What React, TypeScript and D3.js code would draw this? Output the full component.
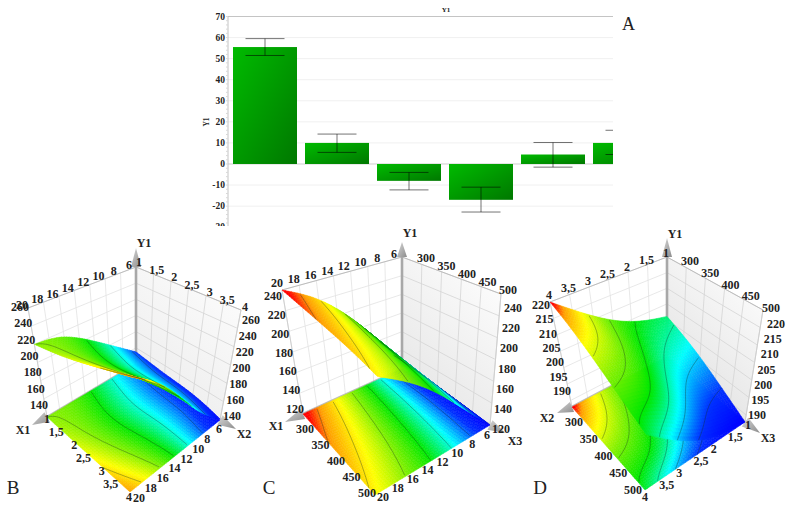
import React, { useEffect, useRef } from 'react';
import * as d3 from 'd3';

// bar chart (A)
const barValues = [55.5, 10, -8, -17, 4.5, 10];
const barLow = [51.5, 5.5, -12.3, -22.8, -1.5, 4.5];
const barHigh = [59.5, 14.2, -4, -11, 10.2, 16];
const barTicks = [-30, -20, -10, 0, 10, 20, 30, 40, 50, 60, 70];

// surface tables: rows run along s (lower left edge), columns along t (lower right edge)
const surfaceB = [
  [155, 178, 200, 218, 220],
  [150, 170, 190, 212, 228],
  [149, 172, 196, 219, 240],
  [141, 165, 200, 232, 250],
];
const surfaceC = [
  [125, 165, 200, 226, 240],
  [125, 160, 192, 218, 232],
  [123, 155, 186, 210, 226],
  [120, 150, 180, 202, 218],
];
const surfaceD = [
  [201, 203, 207, 213, 220],
  [198, 200, 205, 211, 215],
  [194.5, 196, 202, 208, 210],
  [191, 192, 198, 205, 206],
  [188, 189, 192, 197, 203],
];

const ticksX1 = [1, 1.5, 2, 2.5, 3, 3.5, 4];
const ticksX2 = [6, 8, 10, 12, 14, 16, 18, 20];
const ticksX3 = [300, 350, 400, 450, 500];
const zTicksB = [140, 160, 180, 200, 220, 240, 260];
const zTicksC = [120, 140, 160, 180, 200, 220, 240];
const zTicksD = [190, 195, 200, 205, 210, 215, 220];
const contoursB = [160, 180, 200, 220, 240];
const contoursC = [140, 160, 180, 200, 220, 232];
const contoursD = [192, 196, 200, 204, 208, 212];

type P = number[];

const panels = [
  {
    id: 'b', surface: surfaceB, sTicks: ticksX1, tTicks: ticksX2, zTicks: zTicksB, levels: contoursB,
    sDomain: [1, 4], tDomain: [6, 20], zDomain: [140, 260],
    floor: { back: [136, 364], right: [220, 420], left: [47, 417], front: [130, 492] },
    top: { back: [136, 267], right: [241, 310], left: [28, 308], front: [133, 367] },
    tips: { left: [32, 425], right: [236, 429], up: [136, 248] },
    rows: {
      sLow: { from: [50, 423], to: [132, 501], anchor: 'end' },
      tLow: { from: [216, 433], to: [133, 502], anchor: 'start' },
      sTop: { from: [139, 266], to: [245, 311], anchor: 'middle' },
      tTop: { from: [129, 269], to: [22, 309], anchor: 'middle' },
      zLeft: { from: [39, 409], to: [20, 311], anchor: 'middle' },
      zRight: { from: [232, 420], to: [251, 324], anchor: 'middle' },
    },
    titles: [['X1', 23, 434], ['X2', 244, 438], ['Y1', 144, 247]],
    letter: ['B', 13, 494],
    wallGrey: '#eaeaea',
  },
  {
    id: 'c', surface: surfaceC, sTicks: ticksX3, tTicks: ticksX2, zTicks: zTicksC, levels: contoursC,
    sDomain: [250, 500], tDomain: [6, 20], zDomain: [120, 240],
    floor: { back: [402, 369], right: [490, 425], left: [303, 414], front: [375, 495] },
    top: { back: [402, 257], right: [501, 294], left: [282, 290], front: [378, 350] },
    tips: { left: [285, 422], right: [505, 433], up: [402, 242] },
    rows: {
      sLow: { from: [305, 433], to: [367, 497], anchor: 'middle' },
      tLow: { from: [487, 439], to: [383, 501], anchor: 'middle' },
      sTop: { from: [426, 262], to: [508, 294], anchor: 'middle' },
      tTop: { from: [394, 258], to: [277, 287], anchor: 'middle' },
      zLeft: { from: [295, 413], to: [273, 300], anchor: 'middle' },
      zRight: { from: [501, 433], to: [513, 312], anchor: 'middle' },
    },
    titles: [['X1', 276, 430], ['X3', 515, 445], ['Y1', 410, 237]],
    letter: ['C', 269, 494],
    wallGrey: '#e2e2e2',
  },
  {
    id: 'd', surface: surfaceD, sTicks: ticksX3, tTicks: ticksX1, zTicks: zTicksD, levels: contoursD,
    sDomain: [250, 500], tDomain: [1, 4], zDomain: [188, 220],
    floor: { back: [667, 357], right: [745, 422], left: [572, 407], front: [645, 490] },
    top: { back: [667, 257], right: [763, 310], left: [550, 302], front: [648, 372] },
    tips: { left: [557, 413], right: [760, 433], up: [667, 238] },
    rows: {
      sLow: { from: [574, 426], to: [633, 494], anchor: 'middle' },
      tLow: { from: [745, 429], to: [642, 501], anchor: 'start' },
      sTop: { from: [690, 265], to: [771, 312], anchor: 'middle' },
      tTop: { from: [666, 257], to: [549, 299], anchor: 'middle' },
      zLeft: { from: [562, 395], to: [541, 309], anchor: 'middle' },
      zRight: { from: [757, 419], to: [776, 328], anchor: 'middle' },
    },
    titles: [['X2', 547, 422], ['X3', 768, 442], ['Y1', 675, 238]],
    letter: ['D', 540, 494],
    wallGrey: '#dcdcdc',
  },
];

const jet = d3
  .scaleLinear<string>()
  .domain([0, 0.12, 0.3, 0.5, 0.66, 0.8, 0.92, 0.98])
  .range(['#0000ff', '#0030ff', '#00ffff', '#00e800', '#80f000', '#ffff00', '#ff9f00', '#ff0000'])
  .clamp(true);

const serif = '"Liberation Serif", serif';
const comma = (v: number) => String(v).replace('.', ',');
const lerp = (a: P, b: P, k: number) => [a[0] + (b[0] - a[0]) * k, a[1] + (b[1] - a[1]) * k];

function drawBars(svg: any) {
  const x = d3.scaleBand<number>().domain(d3.range(barValues.length)).range([229, 661]).paddingInner(1 / 9).paddingOuter(1 / 18);
  const y = d3.scaleLinear().domain([-30, 70]).range([227.2, 16.5]);

  const grad = svg.append('defs').append('linearGradient').attr('id', 'barFill').attr('x1', 0).attr('y1', 0).attr('x2', 1).attr('y2', 1);
  grad.append('stop').attr('offset', '0%').attr('stop-color', '#00bb00');
  grad.append('stop').attr('offset', '100%').attr('stop-color', '#007800');
  svg.select('defs').append('clipPath').attr('id', 'barClip').append('rect').attr('x', 200).attr('y', 0).attr('width', 413).attr('height', 226);

  const g = svg.append('g').attr('clip-path', 'url(#barClip)');
  g.append('g')
    .selectAll('line')
    .data(barTicks)
    .join('line')
    .attr('x1', 228)
    .attr('x2', 613)
    .attr('y1', (d: number) => y(d))
    .attr('y2', (d: number) => y(d))
    .attr('stroke', (d: number) => (d === 70 ? '#c4c4c4' : d === 0 ? '#cfcfcf' : '#f0f0f0'));
  g.append('g')
    .selectAll('rect')
    .data(barValues)
    .join('rect')
    .attr('x', (_: number, i: number) => x(i))
    .attr('y', (d: number) => y(Math.max(d, 0)))
    .attr('width', x.bandwidth())
    .attr('height', (d: number) => Math.abs(y(d) - y(0)))
    .attr('fill', 'url(#barFill)');
  const err = g.append('g').attr('stroke', '#000').attr('stroke-opacity', 0.55);
  barValues.forEach((_, i) => {
    const cx = x(i)! + x.bandwidth() / 2;
    err.append('line').attr('x1', cx).attr('x2', cx).attr('y1', y(barLow[i])).attr('y2', y(barHigh[i]));
    [barLow[i], barHigh[i]].forEach((v) => {
      err.append('line').attr('x1', cx - 19.5).attr('x2', cx + 19.5).attr('y1', y(v)).attr('y2', y(v));
    });
  });
  g.append('line').attr('x1', 228).attr('x2', 228).attr('y1', 16).attr('y2', 226).attr('stroke', '#c4c4c4');
  g.append('g')
    .selectAll('line')
    .data(d3.range(-30, 71, 2))
    .join('line')
    .attr('x1', 226)
    .attr('x2', 228)
    .attr('y1', (d: number) => y(d))
    .attr('y2', (d: number) => y(d))
    .attr('stroke', '#d8d8d8');
  g.append('g')
    .selectAll('text')
    .data(barTicks)
    .join('text')
    .attr('x', 225)
    .attr('y', (d: number) => y(d) + 3)
    .attr('text-anchor', 'end')
    .attr('font-family', serif)
    .attr('font-weight', 'bold')
    .attr('font-size', 9.5)
    .attr('fill', '#222')
    .text((d: number) => d);
  svg.append('text').attr('x', 446).attr('y', 12).attr('text-anchor', 'middle').attr('font-family', serif).attr('font-weight', 'bold').attr('font-size', 7).attr('fill', '#222').text('Y1');
  svg.append('text').attr('transform', 'translate(209,122) rotate(-90)').attr('text-anchor', 'middle').attr('font-family', serif).attr('font-weight', 'bold').attr('font-size', 7.5).attr('fill', '#222').text('Y1');
  svg.append('text').attr('x', 622).attr('y', 30).attr('font-family', serif).attr('font-size', 18).attr('fill', '#222').text('A');
}

function drawPanel(svg: any, p: any) {
  const g = svg.append('g');
  const s01 = d3.scaleLinear().domain(p.sDomain).range([0, 1]);
  const t01 = d3.scaleLinear().domain(p.tDomain).range([0, 1]);
  const z01 = d3.scaleLinear().domain(p.zDomain).range([0, 1]);

  // cube corners blended, so the slanted perspective edges come out right
  const project = (s: number, t: number, w: number): P => {
    const corner = (c: any) => lerp(lerp(c.back, c.right, s), lerp(c.left, c.front, s), t);
    return lerp(corner(p.floor), corner(p.top), w);
  };
  const height = (s: number, t: number) => {
    const across = p.surface.map((row: number[]) => d3.interpolateBasis(row)(t));
    return d3.interpolateBasis(across)(s);
  };
  const poly = (pts: P[]) => 'M' + pts.map((q) => `${q[0].toFixed(2)},${q[1].toFixed(2)}`).join('L') + 'Z';

  const defs = svg.select('defs');
  const wall = defs.append('linearGradient').attr('id', `wall${p.id}`).attr('x1', 0).attr('y1', 1).attr('x2', 0.6).attr('y2', 0);
  wall.append('stop').attr('offset', '0%').attr('stop-color', p.wallGrey);
  wall.append('stop').attr('offset', '100%').attr('stop-color', '#fbfbfb');
  const cone = defs.append('linearGradient').attr('id', `cone${p.id}`).attr('x1', 0).attr('y1', 0).attr('x2', 1).attr('y2', 1);
  cone.append('stop').attr('offset', '0%').attr('stop-color', '#d8d8d8');
  cone.append('stop').attr('offset', '100%').attr('stop-color', '#8c8c8c');

  // walls
  g.append('path').attr('d', poly([project(0, 0, 0), project(1, 0, 0), project(1, 0, 1), project(0, 0, 1)])).attr('fill', `url(#wall${p.id})`);
  g.append('path').attr('d', poly([project(0, 1, 0), project(0, 0, 0), project(0, 0, 1), project(0, 1, 1)])).attr('fill', '#fff');
  const seg = (a: P, b: P, stroke: string, width = 0.8) =>
    g.append('line').attr('x1', a[0]).attr('y1', a[1]).attr('x2', b[0]).attr('y2', b[1]).attr('stroke', stroke).attr('stroke-width', width);
  p.zTicks.forEach((z: number) => {
    const w = z01(z);
    seg(project(0, 0, w), project(1, 0, w), '#d4d4d4');
    seg(project(0, 0, w), project(0, 1, w), '#e2e2e2');
  });
  p.sTicks.forEach((v: number) => seg(project(s01(v), 0, 0), project(s01(v), 0, 1), '#d4d4d4'));
  p.tTicks.forEach((v: number) => seg(project(0, t01(v), 0), project(0, t01(v), 1), '#e2e2e2'));
  seg(project(0, 1, 1), project(0, 0, 1), '#bdbdbd', 1);
  seg(project(0, 0, 1), project(1, 0, 1), '#bdbdbd', 1);
  seg(project(0, 1, 0), project(0, 1, 1), '#cfcfcf', 1);
  seg(project(1, 0, 0), project(1, 0, 1), '#cfcfcf', 1);
  seg(project(0, 0, 0), project(0, 0, 1), '#a8a8a8', 2.6);
  seg(project(0, 1, 0), project(0, 0, 0), '#bcbcbc', 2.6);
  seg(project(0, 0, 0), project(1, 0, 0), '#bcbcbc', 2.6);

  // arrow heads
  const arrow = (base: P, tip: P, half: number) => {
    const dx = tip[0] - base[0];
    const dy = tip[1] - base[1];
    const len = Math.hypot(dx, dy);
    const nx = (-dy / len) * half;
    const ny = (dx / len) * half;
    g.append('path').attr('d', poly([[base[0] + nx, base[1] + ny], tip, [base[0] - nx, base[1] - ny]])).attr('fill', `url(#cone${p.id})`);
  };
  arrow(project(0, 1, 0), p.tips.left, 5.5);
  arrow(project(1, 0, 0), p.tips.right, 5.5);
  arrow(project(0, 0, 1), p.tips.up, 5);

  // sheets are tessellated only to paint them, back corner first
  const N = 42;
  const colorOf = (v: number) => jet(z01(v));
  const sheet = (lift: boolean) => {
    const layer = g.append('g');
    for (let i = 0; i < N; i++) {
      for (let j = 0; j < N; j++) {
        const s0 = i / N;
        const s1 = (i + 1) / N;
        const t0 = j / N;
        const t1 = (j + 1) / N;
        const corners = [[s0, t0], [s1, t0], [s1, t1], [s0, t1]];
        const at = (c: number[]) => project(c[0], c[1], lift ? z01(height(c[0], c[1])) : 0);
        const q = corners.map(at);
        let fill = colorOf(height((s0 + s1) / 2, (t0 + t1) / 2));
        if (lift) {
          // grazing cells darken, but only on the back half of the sheet
          const flat = d3.polygonArea(corners.map((c) => project(c[0], c[1], 0)));
          const ratio = Math.abs(d3.polygonArea(q) / flat);
          const shade = Math.min(1, 0.62 + ratio * 1.4);
          const backness = Math.max(0, Math.min(1, 1.2 - s0 - t0));
          fill = d3.interpolateRgb('#000', fill)(1 - (1 - shade) * backness);
        }
        layer.append('path').attr('d', poly(q)).attr('fill', fill).attr('stroke', fill).attr('stroke-width', 0.5);
      }
    }
  };

  // contour lines, without the parts that run along the sheet's border
  const M = 70;
  const samples = new Array(M * M);
  for (let y = 0; y < M; y++) for (let x = 0; x < M; x++) samples[x + y * M] = height(x / (M - 1), y / (M - 1));
  const rings = d3.contours().size([M, M]).thresholds(p.levels)(samples);
  const onEdge = (c: P) => c[0] <= 0.5 || c[0] >= M - 0.5 || c[1] <= 0.5 || c[1] >= M - 0.5;
  const contourLines = (lift: boolean) => {
    const line = d3.line();
    rings.forEach((geo: any) => {
      const w = lift ? z01(geo.value) : 0;
      geo.coordinates.forEach((polygon: any) =>
        polygon.forEach((ring: P[]) => {
          let run: P[] = [];
          const flush = () => {
            if (run.length > 1) g.append('path').attr('d', line(run)).attr('fill', 'none').attr('stroke', '#143020').attr('stroke-opacity', 0.6).attr('stroke-width', 0.6);
            run = [];
          };
          ring.forEach((c) => {
            if (onEdge(c)) flush();
            else run.push(project((c[0] - 0.5) / (M - 1), (c[1] - 0.5) / (M - 1), w));
          });
          flush();
        }),
      );
    });
  };

  sheet(false);
  contourLines(false);
  sheet(true);
  contourLines(true);

  // labels
  const label = (row: any, ticks: number[], domain: number[], text: (v: number) => string) => {
    const pos = d3.scaleLinear().domain(domain).range([0, 1]);
    const t = g.append('g');
    ticks.forEach((v) => {
      const q = lerp(row.from, row.to, pos(v));
      t.append('text').attr('x', q[0]).attr('y', q[1]).attr('text-anchor', row.anchor).attr('font-family', serif).attr('font-weight', 'bold').attr('font-size', 12).attr('fill', '#222').text(text(v));
    });
  };
  const ends = (ticks: number[]) => [ticks[0], ticks[ticks.length - 1]];
  label(p.rows.sLow, p.sTicks, ends(p.sTicks), comma);
  label(p.rows.sTop, p.sTicks, ends(p.sTicks), comma);
  label(p.rows.tLow, p.tTicks, ends(p.tTicks), comma);
  label(p.rows.tTop, p.tTicks, ends(p.tTicks), comma);
  label(p.rows.zLeft, p.zTicks, ends(p.zTicks), comma);
  label(p.rows.zRight, p.zTicks, ends(p.zTicks), comma);
  p.titles.forEach((d: any) => {
    g.append('text').attr('x', d[1]).attr('y', d[2]).attr('text-anchor', 'middle').attr('font-family', serif).attr('font-weight', 'bold').attr('font-size', 12).attr('fill', '#222').text(d[0]);
  });
  g.append('text').attr('x', p.letter[1]).attr('y', p.letter[2]).attr('text-anchor', 'middle').attr('font-family', serif).attr('font-size', 19).attr('fill', '#222').text(p.letter[0]);
}

function App() {
  const ref = useRef<SVGSVGElement>(null);

  useEffect(() => {
    const svg = d3.select(ref.current);
    svg.selectAll('*').remove();
    svg.append('defs');
    drawBars(svg);
    panels.forEach((p) => drawPanel(svg, p));
  }, []);

  return <svg ref={ref} width={791} height={509} style={{ position: 'absolute', left: 0, top: 0, background: '#fff' }}></svg>;
}

export default App;
